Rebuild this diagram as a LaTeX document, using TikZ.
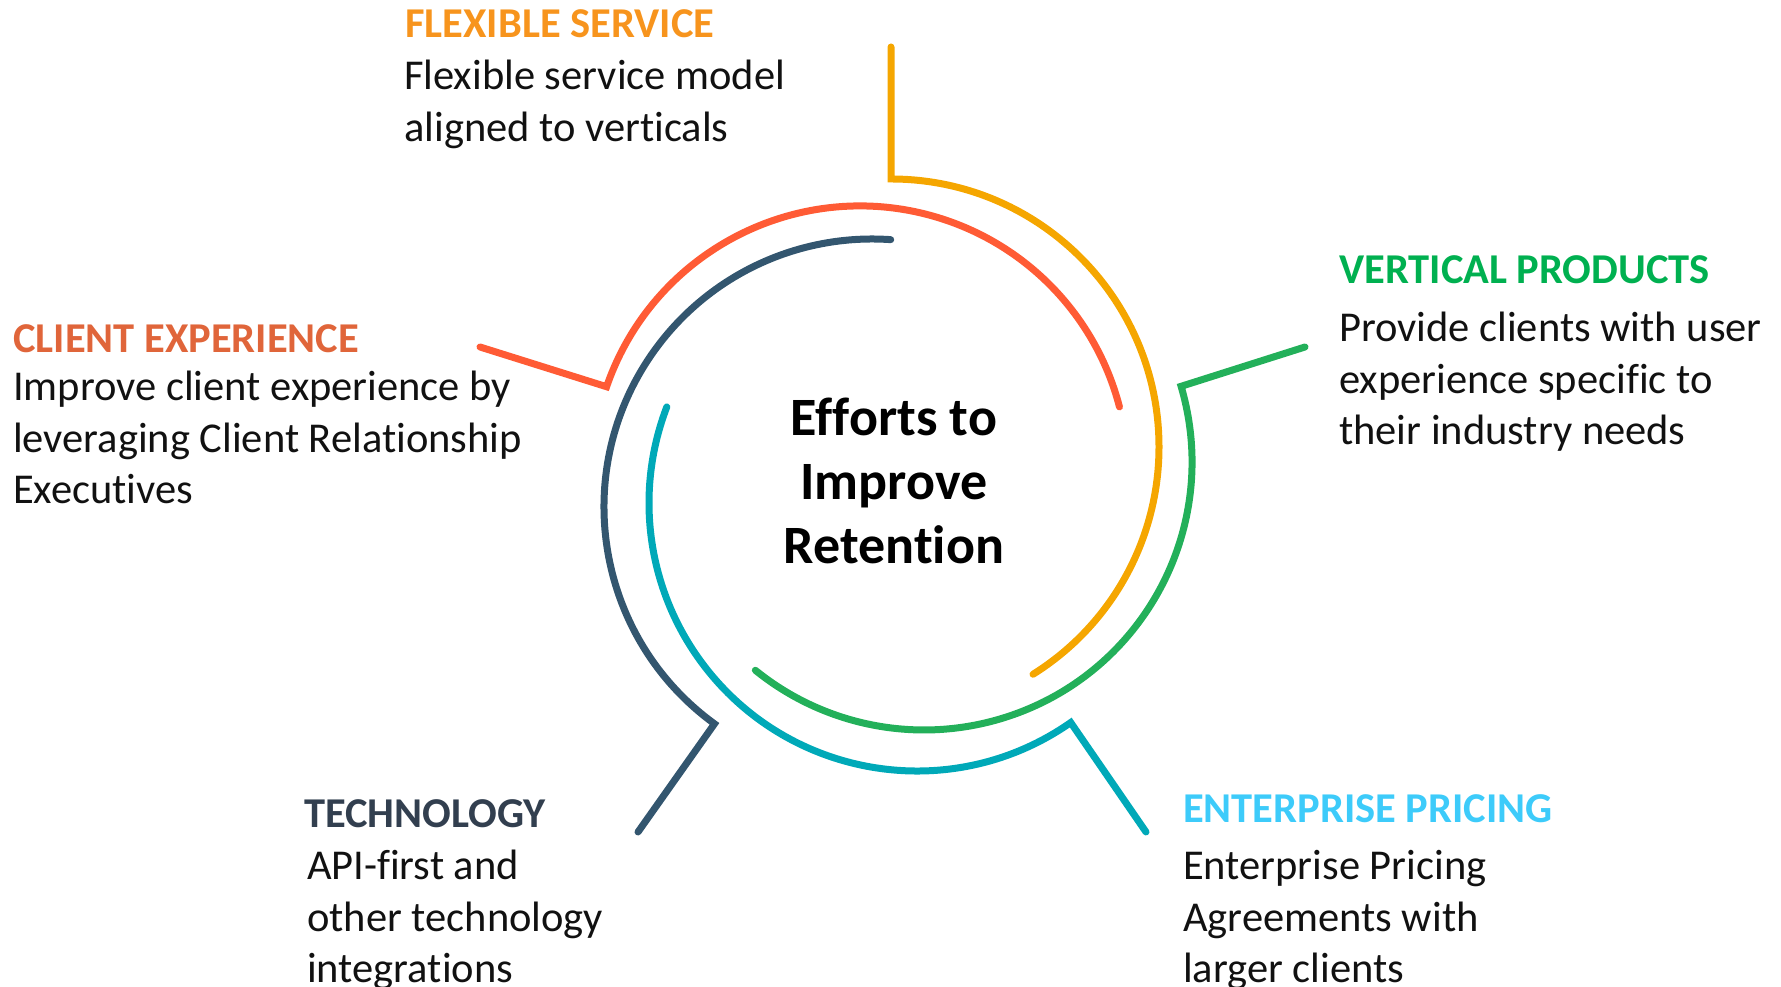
\documentclass[tikz,border=0pt]{standalone}
\usepackage{fontspec}
\setmainfont{Carlito}[Ligatures=NoCommon]
\usetikzlibrary{calc}
\definecolor{orangeline}{RGB}{245,166,0}
\definecolor{redline}{RGB}{255,91,53}
\definecolor{greenline}{RGB}{35,176,90}
\definecolor{tealline}{RGB}{0,169,184}
\definecolor{navyline}{RGB}{51,86,111}
\definecolor{flextitle}{RGB}{247,148,29}
\definecolor{clienttitle}{RGB}{224,101,58}
\definecolor{verttitle}{RGB}{0,176,80}
\definecolor{enttitle}{RGB}{61,203,250}
\definecolor{techtitle}{RGB}{50,63,79}
\definecolor{bodytext}{RGB}{17,17,17}
\begin{document}
\begin{tikzpicture}[x=1pt,y=1pt,
  arcline/.style={line width=7pt, line cap=round},
  titletext/.style={font=\fontsize{42.5}{51.5}\selectfont\bfseries, anchor=base west, inner sep=0pt},
  bodytxt/.style={font=\fontsize{42.5}{51.5}\selectfont, text=bodytext, anchor=base west, inner sep=0pt, align=left}]
\useasboundingbox (0,0) rectangle (1781,987);
% arc centres
\coordinate (cO) at (891,540);
\coordinate (cG) at (924,525);
\coordinate (cT) at (917,484);
\coordinate (cD) at (872,480);
\coordinate (cR) at (860,513);
% corners
\coordinate (kO) at ($(cO)+(90:268pt)$);
\coordinate (kG) at ($(cG)+(16.4:268pt)$);
\coordinate (kT) at ($(cT)+(-55:268pt)$);
\coordinate (kD) at ($(cD)+(234:268pt)$);
\coordinate (kR) at ($(cR)+(161:268pt)$);
% leg ends
\coordinate (eO) at (891,940);
\coordinate (eG) at (1305,640);
\coordinate (eT) at (1146,155);
\coordinate (eD) at (638,155);
\coordinate (eR) at (480,640);
% arcs
\draw[arcline, orangeline] (eO) -- (kO) arc[start angle=90, end angle=-58, radius=268pt];
\draw[arcline, greenline] (eG) -- (kG) arc[start angle=16.4, end angle=-129, radius=268pt];
\draw[arcline, tealline] (eT) -- (kT) arc[start angle=-55, end angle=-201, radius=268pt];
\draw[arcline, navyline] (eD) -- (kD) arc[start angle=234, end angle=86, radius=268pt];
\draw[arcline, redline] (eR) -- (kR) arc[start angle=161, end angle=14.5, radius=268pt];
% centre text (base anchor = last line)
\node[font=\fontsize{54}{64}\selectfont\bfseries, text=black, align=center, anchor=base, inner sep=0pt] (ctr) at (894,423) {Efforts to\\Improve\\Retention};
% labels (base anchor = last line)
\node[titletext, text=flextitle] (tF) at (405,949) {FLEXIBLE SERVICE};
\node[bodytxt] (bF) at (404,845.5) {Flexible service model\\aligned to verticals};
\node[titletext, text=clienttitle] (tC) at (13,634) {CLIENT EXPERIENCE};
\node[bodytxt] (bC) at (13,483) {Improve client experience by\\leveraging Client Relationship\\Executives};
\node[titletext, text=verttitle] (tV) at (1339,703) {VERTICAL PRODUCTS};
\node[bodytxt] (bV) at (1339,542) {Provide clients with user\\experience specific to\\their industry needs};
\node[titletext, text=techtitle] (tT) at (304,159) {TECHNOLOGY};
\node[bodytxt] (bT) at (307,4) {API-first and\\other technology\\integrations};
\node[titletext, text=enttitle] (tE) at (1183,164) {ENTERPRISE PRICING};
\node[bodytxt] (bE) at (1183,4) {Enterprise Pricing\\Agreements with\\larger clients};
\end{tikzpicture}
\end{document}
